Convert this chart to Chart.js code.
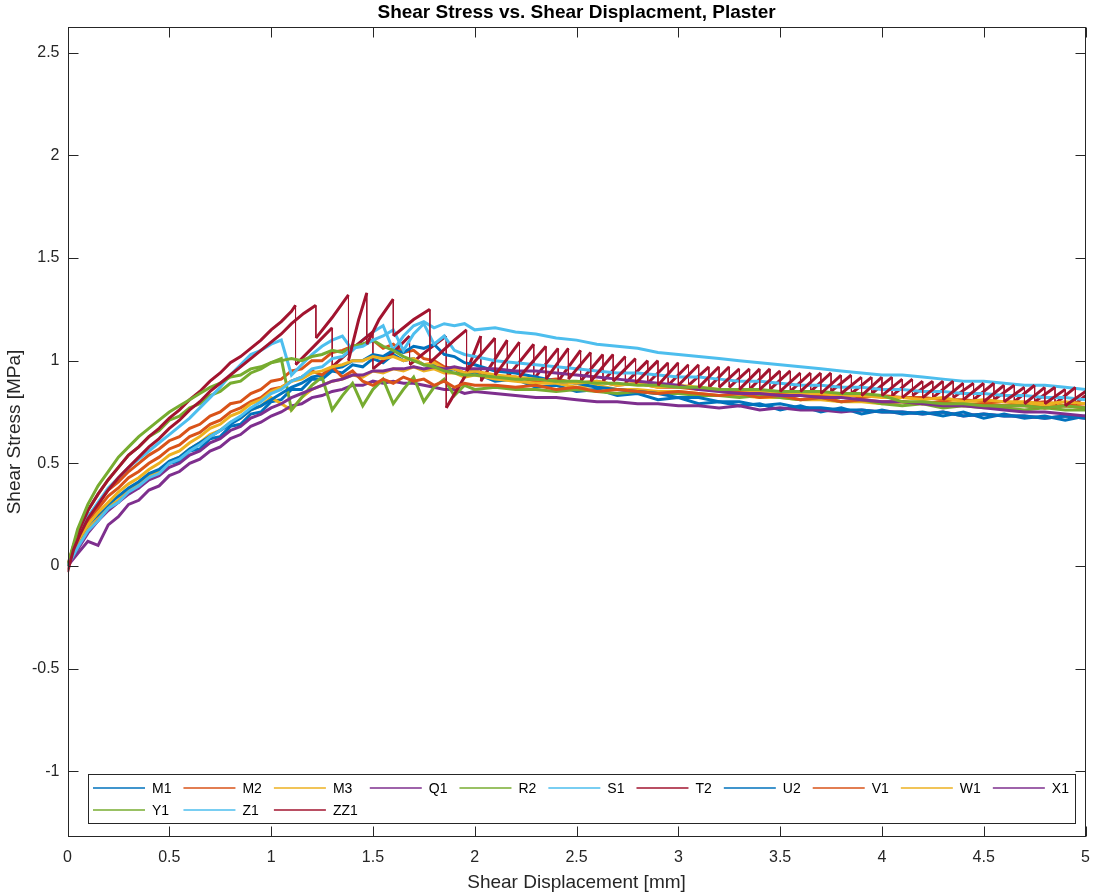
<!DOCTYPE html>
<html>
<head>
<meta charset="utf-8">
<title>Shear Stress vs. Shear Displacment, Plaster</title>
<script src="https://cdn.jsdelivr.net/npm/chart.js@4.4.1/dist/chart.umd.min.js"></script>
<style>
  html, body { margin: 0; padding: 0; background: #fff; }
  #wrap { width: 1101px; height: 895px; }
</style>
</head>
<body>
<div id="wrap"><canvas id="chart" width="1101" height="895"></canvas></div>
<script>
// shared displacement grid (mm) for the smoother tests
const disp = [
  0, 0.05, 0.1, 0.15, 0.2, 0.25, 0.3, 0.35, 0.4, 0.45,
  0.5, 0.55, 0.6, 0.65, 0.7, 0.75, 0.8, 0.85, 0.9, 0.95,
  1, 1.05, 1.1, 1.15, 1.2, 1.25, 1.3, 1.35, 1.4, 1.45,
  1.5, 1.55, 1.6, 1.65, 1.7, 1.75, 1.8, 1.85, 1.9, 1.95,
  2, 2.1, 2.2, 2.3, 2.4, 2.5, 2.6, 2.7, 2.8, 2.9, 3,
  3.1, 3.2, 3.3, 3.4, 3.5, 3.6, 3.7, 3.8, 3.9, 4,
  4.1, 4.2, 4.3, 4.4, 4.5, 4.6, 4.7, 4.8, 4.9, 5
];

// shear stress (MPa) on the disp grid
const M1 = [
  0, 0.10, 0.18, 0.22, 0.29, 0.31, 0.37, 0.38, 0.44, 0.45,
  0.50, 0.51, 0.56, 0.57, 0.62, 0.63, 0.68, 0.69, 0.74, 0.75,
  0.80, 0.81, 0.86, 0.86, 0.91, 0.91, 0.95, 0.94, 0.98, 0.97,
  1.01, 0.99, 1.03, 1.00, 1.01, 0.98, 0.98, 0.95, 0.96, 0.93,
  0.94, 0.90, 0.91, 0.87, 0.88, 0.85, 0.86, 0.83, 0.84, 0.81, 0.82,
  0.79, 0.80, 0.78, 0.79, 0.76, 0.78, 0.75, 0.77, 0.74, 0.76,
  0.74, 0.75, 0.73, 0.75, 0.72, 0.74, 0.72, 0.73, 0.71, 0.73
];
const M2 = [
  0, 0.15, 0.24, 0.30, 0.37, 0.41, 0.46, 0.50, 0.54, 0.57,
  0.61, 0.63, 0.67, 0.69, 0.73, 0.75, 0.79, 0.80, 0.84, 0.86,
  0.90, 0.91, 0.95, 0.96, 1.00, 1.00, 1.04, 1.05, 1.07, 1.08,
  1.10, 1.06, 1.08, 1.04, 1.05, 1.01, 1.00, 0.97, 0.96, 0.94,
  0.95, 0.92, 0.92, 0.90, 0.91, 0.89, 0.90, 0.88, 0.89, 0.87, 0.87,
  0.86, 0.86, 0.85, 0.85, 0.84, 0.84, 0.83, 0.84, 0.82, 0.83,
  0.82, 0.82, 0.81, 0.81, 0.80, 0.80, 0.79, 0.80, 0.78, 0.79
];
const M3 = [
  0, 0.10, 0.18, 0.23, 0.29, 0.32, 0.37, 0.40, 0.44, 0.46,
  0.51, 0.53, 0.57, 0.60, 0.64, 0.66, 0.70, 0.72, 0.76, 0.78,
  0.82, 0.79, 0.76, 0.82, 0.86, 0.88, 0.90, 0.91, 0.93, 0.92,
  0.95, 0.94, 0.96, 0.95, 0.97, 0.95, 0.96, 0.94, 0.94, 0.92,
  0.93, 0.91, 0.90, 0.89, 0.89, 0.87, 0.88, 0.86, 0.86, 0.85, 0.85,
  0.84, 0.83, 0.83, 0.82, 0.82, 0.81, 0.81, 0.80, 0.80, 0.79,
  0.80, 0.79, 0.80, 0.79, 0.79, 0.78, 0.79, 0.78, 0.78, 0.77
];
const Q1 = [
  0, 0.06, 0.12, 0.10, 0.20, 0.24, 0.30, 0.32, 0.37, 0.39,
  0.44, 0.46, 0.50, 0.52, 0.56, 0.58, 0.62, 0.64, 0.68, 0.70,
  0.73, 0.75, 0.78, 0.79, 0.82, 0.83, 0.85, 0.86, 0.88, 0.88,
  0.90, 0.89, 0.90, 0.89, 0.89, 0.88, 0.87, 0.86, 0.86, 0.84,
  0.85, 0.84, 0.83, 0.82, 0.82, 0.81, 0.80, 0.80, 0.79, 0.79, 0.78,
  0.78, 0.77, 0.78, 0.76, 0.77, 0.76, 0.76, 0.75, 0.76, 0.75,
  0.75, 0.74, 0.75, 0.73, 0.74, 0.73, 0.73, 0.72, 0.73, 0.72
];
const R2 = [
  0, 0.16, 0.27, 0.35, 0.42, 0.48, 0.54, 0.58, 0.63, 0.66,
  0.71, 0.73, 0.77, 0.79, 0.83, 0.85, 0.89, 0.90, 0.94, 0.96,
  0.99, 1.01, 0.76, 0.82, 0.88, 0.92, 0.76, 0.83, 0.89, 0.78,
  0.86, 0.91, 0.79, 0.86, 0.92, 0.80, 0.87, 0.91, 0.83, 0.88,
  0.86, 0.87, 0.86, 0.86, 0.85, 0.86, 0.85, 0.84, 0.85, 0.84, 0.84,
  0.83, 0.83, 0.82, 0.83, 0.82, 0.81, 0.82, 0.80, 0.81, 0.79,
  0.78, 0.79, 0.77, 0.78, 0.77, 0.77, 0.76, 0.77, 0.76, 0.76
];
const S1 = [
  0, 0.14, 0.24, 0.31, 0.38, 0.43, 0.48, 0.52, 0.56, 0.60,
  0.64, 0.68, 0.72, 0.77, 0.82, 0.87, 0.93, 0.98, 1.03, 1.05,
  1.08, 1.10, 0.93, 0.98, 1.03, 1.07, 1.10, 1.12, 1.05, 1.10,
  1.14, 1.17, 1.05, 1.12, 1.17, 1.19, 1.16, 1.18, 1.17, 1.18,
  1.15, 1.16, 1.14, 1.13, 1.11, 1.10, 1.08, 1.07, 1.06, 1.04, 1.03,
  1.02, 1.01, 1.00, 0.99, 0.98, 0.97, 0.96, 0.95, 0.94, 0.93,
  0.93, 0.92, 0.91, 0.90, 0.90, 0.89, 0.88, 0.88, 0.87, 0.86
];
const U2 = [
  0, 0.12, 0.20, 0.25, 0.30, 0.34, 0.38, 0.41, 0.45, 0.47,
  0.51, 0.53, 0.57, 0.60, 0.63, 0.66, 0.69, 0.72, 0.76, 0.78,
  0.81, 0.84, 0.87, 0.89, 0.92, 0.93, 0.96, 0.97, 1.00, 1.00,
  1.03, 1.02, 1.05, 1.04, 1.07, 1.06, 1.08, 1.03, 1.02, 0.99,
  0.98, 0.95, 0.94, 0.92, 0.90, 0.89, 0.87, 0.86, 0.85, 0.84, 0.82,
  0.82, 0.80, 0.80, 0.78, 0.79, 0.77, 0.77, 0.76, 0.76, 0.75,
  0.75, 0.74, 0.75, 0.73, 0.74, 0.73, 0.73, 0.72, 0.73, 0.72
];
const V1 = [
  0, 0.13, 0.22, 0.28, 0.34, 0.38, 0.43, 0.46, 0.50, 0.53,
  0.57, 0.59, 0.63, 0.65, 0.69, 0.71, 0.75, 0.77, 0.80, 0.82,
  0.86, 0.87, 0.90, 0.92, 0.95, 0.93, 0.97, 0.92, 0.95, 0.90,
  0.88, 0.91, 0.89, 0.92, 0.90, 0.91, 0.88, 0.90, 0.87, 0.89,
  0.88, 0.88, 0.87, 0.88, 0.86, 0.87, 0.85, 0.86, 0.85, 0.84, 0.85,
  0.84, 0.83, 0.84, 0.82, 0.83, 0.81, 0.82, 0.80, 0.81, 0.80,
  0.80, 0.79, 0.80, 0.78, 0.79, 0.78, 0.78, 0.77, 0.78, 0.77
];
const W1 = [
  0, 0.12, 0.20, 0.26, 0.31, 0.36, 0.40, 0.43, 0.47, 0.50,
  0.54, 0.56, 0.60, 0.63, 0.67, 0.69, 0.73, 0.75, 0.79, 0.81,
  0.85, 0.87, 0.90, 0.91, 0.94, 0.95, 0.97, 0.98, 1.00, 1.00,
  1.02, 1.01, 1.02, 1.00, 1.01, 0.98, 0.99, 0.96, 0.96, 0.94,
  0.95, 0.93, 0.92, 0.91, 0.90, 0.89, 0.90, 0.88, 0.89, 0.87, 0.88,
  0.87, 0.86, 0.86, 0.85, 0.85, 0.84, 0.84, 0.83, 0.83, 0.82,
  0.82, 0.81, 0.82, 0.80, 0.81, 0.80, 0.80, 0.79, 0.80, 0.79
];
const X1 = [
  0, 0.08, 0.16, 0.22, 0.27, 0.31, 0.35, 0.38, 0.42, 0.44,
  0.48, 0.50, 0.54, 0.56, 0.60, 0.62, 0.66, 0.68, 0.72, 0.74,
  0.77, 0.79, 0.82, 0.84, 0.86, 0.88, 0.90, 0.91, 0.93, 0.93,
  0.95, 0.95, 0.96, 0.96, 0.97, 0.96, 0.97, 0.96, 0.97, 0.96,
  0.96, 0.96, 0.95, 0.95, 0.94, 0.93, 0.92, 0.91, 0.90, 0.89, 0.88,
  0.86, 0.85, 0.84, 0.84, 0.83, 0.83, 0.82, 0.82, 0.81, 0.80,
  0.80, 0.79, 0.78, 0.78, 0.77, 0.76, 0.75, 0.75, 0.74, 0.73
];
const Y1 = [
  0, 0.18, 0.30, 0.39, 0.46, 0.53, 0.58, 0.63, 0.67, 0.71,
  0.75, 0.78, 0.81, 0.84, 0.87, 0.89, 0.92, 0.93, 0.96, 0.97,
  0.99, 1.00, 1.01, 1.00, 1.02, 1.03, 1.05, 1.04, 1.07, 1.08,
  1.10, 1.07, 1.05, 1.02, 1.00, 0.98, 0.97, 0.95, 0.94, 0.93,
  0.93, 0.92, 0.91, 0.91, 0.90, 0.90, 0.89, 0.89, 0.88, 0.88, 0.87,
  0.87, 0.86, 0.86, 0.86, 0.85, 0.85, 0.85, 0.84, 0.84, 0.83,
  0.80, 0.80, 0.79, 0.79, 0.78, 0.78, 0.78, 0.77, 0.78, 0.77
];
const Z1 = [
  0, 0.09, 0.17, 0.22, 0.28, 0.31, 0.36, 0.39, 0.43, 0.45,
  0.50, 0.52, 0.56, 0.59, 0.63, 0.66, 0.70, 0.73, 0.77, 0.80,
  0.84, 0.86, 0.90, 0.92, 0.96, 0.97, 1.01, 1.02, 1.06, 1.07,
  1.10, 1.12, 1.15, 1.05, 1.13, 1.18, 1.08, 1.12, 1.05, 1.03,
  1.02, 1.00, 0.99, 0.98, 0.97, 0.96, 0.95, 0.94, 0.94, 0.93, 0.92,
  0.92, 0.91, 0.90, 0.90, 0.89, 0.88, 0.88, 0.87, 0.87, 0.86,
  0.86, 0.85, 0.85, 0.84, 0.84, 0.83, 0.83, 0.82, 0.82, 0.81
];

// stick-slip tests: [displacement mm, stress MPa]
const T2 = [
  [0, 0], [0.03, 0.1], [0.06, 0.18], [0.1, 0.27], [0.15, 0.35], [0.2, 0.42], [0.25, 0.48],
  [0.3, 0.54], [0.35, 0.58], [0.4, 0.63], [0.45, 0.67], [0.5, 0.72], [0.55, 0.76], [0.6, 0.81],
  [0.65, 0.85], [0.7, 0.9], [0.75, 0.94], [0.8, 0.99], [0.85, 1.02], [0.9, 1.06], [0.95, 1.1],
  [1.0, 1.15], [1.05, 1.19], [1.1, 1.24], [1.12, 1.27], [1.12, 0.98], [1.2, 1.06], [1.3, 1.16],
  [1.3, 0.97], [1.4, 1.06], [1.5, 1.14], [1.5, 0.96], [1.6, 1.04], [1.68, 1.12], [1.68, 0.98],
  [1.78, 1.06], [1.86, 1.12], [1.86, 0.77], [1.95, 0.92], [2.03, 1.12], [2.03, 0.9],
  [2.16, 1.1], [2.16, 0.92], [2.29, 1.08], [2.29, 0.91], [2.41, 1.06], [2.41, 0.9],
  [2.52, 1.05], [2.52, 0.9], [2.63, 1.03], [2.63, 0.9], [2.74, 1.02], [2.74, 0.89],
  [2.85, 1.0], [2.85, 0.89], [2.95, 0.99], [2.95, 0.88], [3.05, 0.98], [3.05, 0.88],
  [3.15, 0.97], [3.15, 0.87], [3.25, 0.97], [3.25, 0.87], [3.35, 0.96], [3.35, 0.86],
  [3.45, 0.96], [3.45, 0.86], [3.55, 0.95], [3.55, 0.85], [3.65, 0.94], [3.65, 0.85],
  [3.75, 0.94], [3.75, 0.85], [3.85, 0.93], [3.85, 0.84], [3.95, 0.92], [3.95, 0.84],
  [4.05, 0.92], [4.05, 0.83], [4.15, 0.91], [4.15, 0.83], [4.25, 0.9], [4.25, 0.82],
  [4.35, 0.9], [4.35, 0.82], [4.45, 0.89], [4.45, 0.81], [4.55, 0.89], [4.55, 0.81],
  [4.65, 0.88], [4.65, 0.8], [4.75, 0.88], [4.75, 0.8], [4.85, 0.87], [4.85, 0.79],
  [4.95, 0.87], [4.95, 0.79], [5.0, 0.83]
];
const ZZ1 = [
  [0, -0.03], [0.03, 0.08], [0.06, 0.15], [0.1, 0.23], [0.15, 0.3], [0.2, 0.37], [0.25, 0.43],
  [0.3, 0.48], [0.35, 0.53], [0.4, 0.58], [0.45, 0.62], [0.5, 0.67], [0.55, 0.71], [0.6, 0.76],
  [0.65, 0.8], [0.7, 0.85], [0.75, 0.89], [0.8, 0.93], [0.85, 0.97], [0.9, 1.01], [0.95, 1.05],
  [1.0, 1.09], [1.05, 1.13], [1.1, 1.18], [1.16, 1.23], [1.22, 1.27], [1.22, 1.11], [1.3, 1.21],
  [1.38, 1.32], [1.38, 1.0], [1.43, 1.2], [1.47, 1.33], [1.47, 1.08], [1.53, 1.2], [1.6, 1.3],
  [1.6, 1.12], [1.7, 1.2], [1.78, 1.25], [1.78, 0.99], [1.9, 1.1], [1.96, 1.15], [1.96, 0.95],
  [2.1, 1.11], [2.1, 0.93], [2.22, 1.09], [2.22, 0.92], [2.35, 1.07], [2.35, 0.91],
  [2.46, 1.06], [2.46, 0.91], [2.57, 1.04], [2.57, 0.9], [2.68, 1.03], [2.68, 0.9],
  [2.79, 1.01], [2.79, 0.89], [2.9, 1.0], [2.9, 0.88], [3.0, 0.99], [3.0, 0.88],
  [3.1, 0.98], [3.1, 0.87], [3.2, 0.97], [3.2, 0.87], [3.3, 0.96], [3.3, 0.86],
  [3.4, 0.96], [3.4, 0.86], [3.5, 0.95], [3.5, 0.85], [3.6, 0.94], [3.6, 0.85],
  [3.7, 0.94], [3.7, 0.84], [3.8, 0.93], [3.8, 0.84], [3.9, 0.92], [3.9, 0.83],
  [4.0, 0.92], [4.0, 0.83], [4.1, 0.91], [4.1, 0.82], [4.2, 0.9], [4.2, 0.82],
  [4.3, 0.9], [4.3, 0.81], [4.4, 0.89], [4.4, 0.81], [4.5, 0.89], [4.5, 0.8],
  [4.6, 0.88], [4.6, 0.8], [4.7, 0.87], [4.7, 0.79], [4.8, 0.87], [4.8, 0.79],
  [4.9, 0.86], [4.9, 0.78], [5.0, 0.85]
];

const names = ['M1', 'M2', 'M3', 'Q1', 'R2', 'S1', 'T2', 'U2', 'V1', 'W1', 'X1', 'Y1', 'Z1', 'ZZ1'];
const series = [M1, M2, M3, Q1, R2, S1, T2, U2, V1, W1, X1, Y1, Z1, ZZ1];
const colors = ['#0072BD', '#D95319', '#EDB120', '#7E2F8E', '#77AC30', '#4DBEEE', '#A2142F'];
const xTicks = [0, 0.5, 1, 1.5, 2, 2.5, 3, 3.5, 4, 4.5, 5];
const yTicks = [-1, -0.5, 0, 0.5, 1, 1.5, 2, 2.5];

const FONT = "'Liberation Sans', Arial, Helvetica, sans-serif";
const AXIS = '#262626';

function toPoints(arr) {
  if (typeof arr[0] === 'number') return arr.map((y, i) => ({ x: disp[i], y }));
  return arr.map(p => ({ x: p[0], y: p[1] }));
}

const datasets = series.map((s, i) => ({
  label: names[i],
  data: toPoints(s),
  borderColor: colors[i % colors.length],
  borderWidth: 3,
  pointRadius: 0,
  tension: 0,
  fill: false,
  // slip drops are thin vertical lines in the original plot
  segment: { borderWidth: c => (c.p0.parsed.x === c.p1.parsed.x ? 1 : 3) },
  order: series.length - i   // last series drawn on top, like MATLAB
}));

// box, inward ticks, titles and the legend, MATLAB style
const matlabFrame = {
  id: 'matlabFrame',
  afterDatasetsDraw(chart) {
    const { ctx, chartArea: a, scales: { x, y } } = chart;
    const L = Math.round(a.left) + 0.5, R = Math.round(a.right) - 0.5;
    const T = Math.round(a.top) + 0.5, B = Math.round(a.bottom) - 0.5;
    ctx.save();
    ctx.strokeStyle = AXIS;
    ctx.lineWidth = 1;
    ctx.strokeRect(L, T, R - L, B - T);
    const tl = 10;
    ctx.beginPath();
    xTicks.forEach(v => {
      const px = Math.round(x.getPixelForValue(v)) + 0.5;
      ctx.moveTo(px, B); ctx.lineTo(px, B - tl);
      ctx.moveTo(px, T); ctx.lineTo(px, T + tl);
    });
    yTicks.forEach(v => {
      const py = Math.round(y.getPixelForValue(v)) + 0.5;
      ctx.moveTo(L, py); ctx.lineTo(L + tl, py);
      ctx.moveTo(R, py); ctx.lineTo(R - tl, py);
    });
    ctx.stroke();

    // legend, 11 columns, 2 rows
    const lx = 88.5, ly = 774.5, lw = 987, lh = 49;
    ctx.fillStyle = '#fff';
    ctx.fillRect(lx, ly, lw, lh);
    ctx.strokeRect(lx, ly, lw, lh);
    ctx.font = '14px ' + FONT;
    ctx.textBaseline = 'middle';
    ctx.textAlign = 'left';
    const cols = 11, lineLen = 52, textGap = 7, colGap = 12;
    let cx = 93;
    for (let c = 0; c < cols; c++) {
      let maxW = 0;
      for (let r = 0; r < 2; r++) {
        const k = r * cols + c;
        if (k >= names.length) continue;
        const ry = r === 0 ? 788 : 810;
        ctx.strokeStyle = colors[k % colors.length];
        ctx.lineWidth = 1.5;
        ctx.beginPath();
        ctx.moveTo(cx, ry); ctx.lineTo(cx + lineLen, ry);
        ctx.stroke();
        ctx.fillStyle = '#000';
        ctx.fillText(names[k], cx + lineLen + textGap, ry + 1);
        maxW = Math.max(maxW, ctx.measureText(names[k]).width);
      }
      cx += lineLen + textGap + maxW + colGap;
    }

    // titles
    const midX = (a.left + a.right) / 2;
    ctx.fillStyle = '#000';
    ctx.textAlign = 'center';
    ctx.font = 'bold 19px ' + FONT;
    ctx.fillText('Shear Stress vs. Shear Displacment, Plaster', midX, 13);
    ctx.fillStyle = AXIS;
    ctx.font = '19px ' + FONT;
    ctx.fillText('Shear Displacement [mm]', midX, 883);
    ctx.translate(15, (a.top + a.bottom) / 2);
    ctx.rotate(-Math.PI / 2);
    ctx.fillText('Shear Stress [MPa]', 0, 0);
    ctx.restore();
  }
};

Chart.defaults.font.family = FONT;

new Chart(document.getElementById('chart'), {
  type: 'line',
  data: { datasets },
  options: {
    responsive: false,
    animation: false,
    devicePixelRatio: 1,
    layout: { padding: { top: 27, right: 7, left: 0, bottom: 0 } },
    plugins: { legend: { display: false }, tooltip: { enabled: false }, title: { display: false } },
    scales: {
      x: {
        type: 'linear', min: 0, max: 5,
        grid: { display: false, drawTicks: false },
        border: { display: false },
        ticks: { color: AXIS, font: { size: 16 }, padding: 11, maxRotation: 0, autoSkip: false, callback: v => String(v) },
        afterBuildTicks: s => { s.ticks = xTicks.map(v => ({ value: v })); },
        afterFit: s => { s.height = 58; }
      },
      y: {
        type: 'linear', min: -1.32, max: 2.625,
        grid: { display: false, drawTicks: false },
        border: { display: false },
        ticks: { color: AXIS, font: { size: 16 }, padding: 8, autoSkip: false, callback: v => String(v) },
        afterBuildTicks: s => { s.ticks = yTicks.map(v => ({ value: v })); },
        afterFit: s => { s.width = 67.5; }
      }
    }
  },
  plugins: [matlabFrame]
});
</script>
</body>
</html>
